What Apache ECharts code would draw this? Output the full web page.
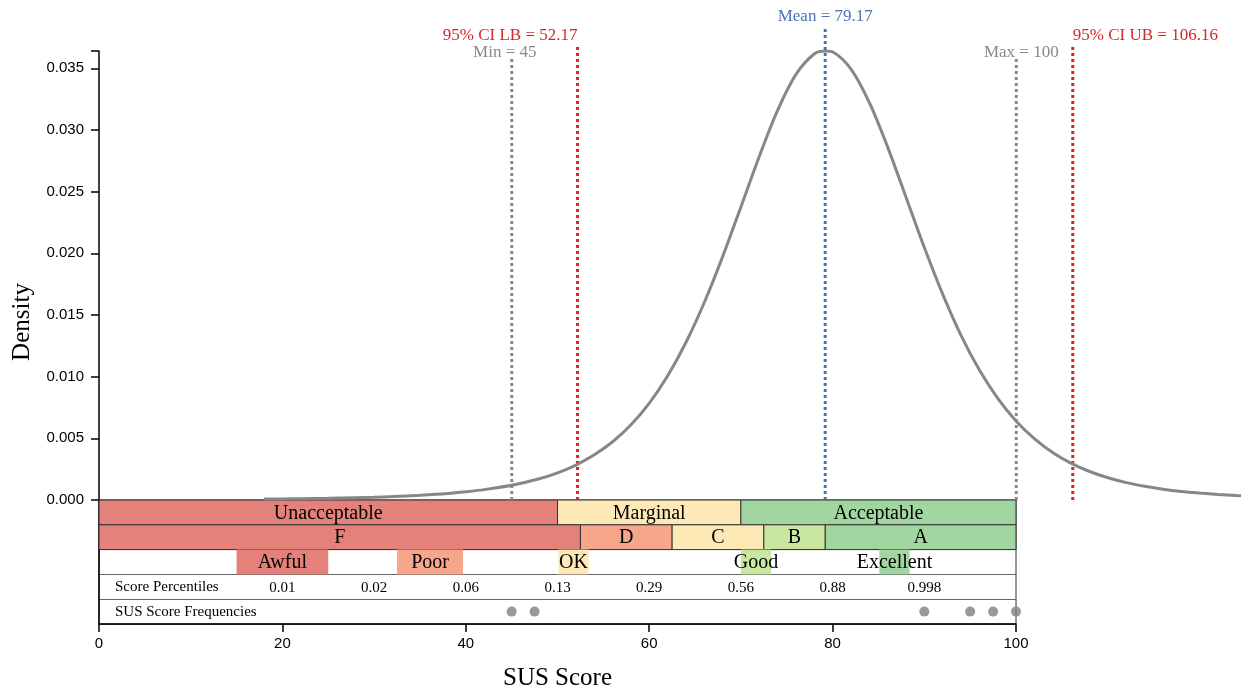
<!DOCTYPE html>
<html><head><meta charset="utf-8">
<script src="https://cdn.jsdelivr.net/npm/echarts@6/dist/echarts.min.js"></script>
<style>html,body{margin:0;padding:0;background:#fff}#c{width:1241px;height:689px}</style>
</head><body><div id="c"></div>
<script>
// ---- data ----
const densityX = [18,20,22,25,28,30,32,35,38,40,42,45,48,50,52,54,56,58,60,62,64,66,68,70,72,74,76,78,79.17,80,82,84,86,88,90,92,94,96,98,100,102,104,106,108,110,112,114,116,118,120,122,124,126];
const densityY = [0.00008,0.00009,0.00011,0.00014,0.00019,0.00023,0.00028,0.00039,0.00053,0.00067,0.00084,0.00119,0.00172,0.00220,0.00283,0.00366,0.00472,0.00610,0.00786,0.01007,0.01279,0.01603,0.01975,0.02380,0.02789,0.03163,0.03453,0.03618,0.03640,0.03632,0.03491,0.03219,0.02857,0.02451,0.02043,0.01665,0.01331,0.01051,0.00822,0.00639,0.00495,0.00383,0.00297,0.00231,0.00180,0.00141,0.00111,0.00087,0.00069,0.00056,0.00045,0.00036,0.00029];
const refValues = [45, 52.17, 79.17, 100, 106.16];
const refLabels = ['Min = 45','95% CI LB = 52.17','Mean = 79.17','Max = 100','95% CI UB = 106.16'];
const acceptLabels = ['Unacceptable','Marginal','Acceptable'];
const acceptFrom = [0,50,70];
const acceptTo = [50,70,100];
const gradeLabels = ['F','D','C','B','A'];
const gradeFrom = [0,52.5,62.5,72.5,79.2];
const gradeTo = [52.5,62.5,72.5,79.2,100];
const adjLabels = ['Awful','Poor','OK','Good','Excellent'];
const adjFrom = [15,32.5,50.1,70,85.1];
const adjTo = [25,39.7,53.4,73.3,88.4];
const pctX = [20,30,40,50,60,70,80,90];
const pctLabels = ['0.01','0.02','0.06','0.13','0.29','0.56','0.88','0.998'];
const scores = [45,47.5,90,95,97.5,100];
const rowTitles = ['Score Percentiles','SUS Score Frequencies'];

// ---- styles ----
const RED='#e5817b', SALMON='#f5a68b', YEL='#fde9b5', LGREEN='#c9e7a1', GREEN='#a2d6a0';
const acceptColors=[RED,YEL,GREEN];
const gradeColors=[RED,SALMON,YEL,LGREEN,GREEN];
const adjColors=[RED,SALMON,YEL,LGREEN,GREEN];
const refColors=['#888888','#d62728','#4a72b0','#888888','#d62728'];
const refHeights=[441,456,472,441,456];
const refAlign=['center','right','center','center','left'];
const refDx=[-7,0,0,5,0];
const refDy=[-2,0,3,-2,0];
const SERIF='"Liberation Serif", "Times New Roman", serif';
const SANS='"Liberation Sans", Arial, sans-serif';

const rows=[
  {labels:acceptLabels, from:acceptFrom, to:acceptTo, colors:acceptColors, stroke:'#333'},
  {labels:gradeLabels, from:gradeFrom, to:gradeTo, colors:gradeColors, stroke:'#333'},
  {labels:adjLabels, from:adjFrom, to:adjTo, colors:adjColors, stroke:null}
];
const bandData=[];
rows.forEach((r,ri)=>r.labels.forEach((l,k)=>bandData.push([r.from[k],r.to[k],ri,k])));

const chart=echarts.init(document.getElementById('c'),null,{renderer:'canvas'});
chart.setOption({
  animation:false,
  backgroundColor:'#fff',
  grid:[
    {left:99,top:51,width:1142,height:449,outerBoundsMode:'none'},
    {left:99,top:500,width:917,height:124,show:true,borderColor:'#333',borderWidth:1,backgroundColor:'transparent',outerBoundsMode:'none'}
  ],
  xAxis:[
    {gridIndex:0,type:'value',min:0,max:124.5,show:false},
    {gridIndex:1,type:'value',min:0,max:100,interval:20,
     axisLine:{show:true,onZero:false,lineStyle:{color:'#000',width:1.5}},
     axisTick:{show:true,length:8,lineStyle:{color:'#000',width:1.5}},
     axisLabel:{margin:12,color:'#000',fontSize:15,fontFamily:SANS},
     splitLine:{show:false},
     name:'SUS Score',nameLocation:'middle',nameGap:42,
     nameTextStyle:{fontFamily:SERIF,fontSize:25,color:'#000'}}
  ],
  yAxis:[
    {gridIndex:0,type:'value',min:0,max:0.0364,interval:0.005,
     axisLine:{show:true,lineStyle:{color:'#000',width:1.5}},
     axisTick:{show:true,length:8,lineStyle:{color:'#000',width:1.5}},
     axisLabel:{margin:15,color:'#000',fontSize:15,fontFamily:SANS,
       formatter:v=>Math.abs(v/0.005-Math.round(v/0.005))<1e-6?v.toFixed(3):''},
     splitLine:{show:false}},
    {gridIndex:1,type:'value',min:0,max:5,interval:1,inverse:true,
     axisLine:{show:true,onZero:false,lineStyle:{color:'#000',width:1.5}},
     axisTick:{show:false},axisLabel:{show:false},
     splitLine:{show:true,lineStyle:{color:'#666',width:1}}}
  ],
  graphic:[
    {type:'text',x:22,y:322,rotation:Math.PI/2,
     style:{text:'Density',font:'25px '+SERIF,fill:'#000',align:'center',verticalAlign:'middle'}}
  ],
  series:[
    {type:'custom',xAxisIndex:1,yAxisIndex:1,z:2,data:bandData,
     renderItem:(params,api)=>{
       const from=api.value(0),to=api.value(1),ri=api.value(2),k=api.value(3);
       const r=rows[ri];
       const p0=api.coord([from,ri]),p1=api.coord([to,ri+1]);
       const x=p0[0],y=Math.min(p0[1],p1[1]),w=p1[0]-p0[0],h=Math.abs(p1[1]-p0[1]);
       return {type:'group',children:[
         {type:'rect',shape:{x:x,y:y,width:w,height:h},style:{fill:r.colors[k],stroke:r.stroke,lineWidth:1}},
         {type:'text',x:x+w/2,y:y+h/2+1,style:{text:r.labels[k],fill:'#000',font:'20px '+SERIF,align:'center',verticalAlign:'middle'}}
       ]};
     }},
    {type:'custom',xAxisIndex:1,yAxisIndex:1,z:3,data:pctX.map((x,i)=>[x,i]),
     renderItem:(params,api)=>{
       const p=api.coord([api.value(0),3.5]);
       return {type:'text',x:p[0],y:p[1]+1,style:{text:pctLabels[api.value(1)],fill:'#000',font:'15px '+SERIF,align:'center',verticalAlign:'middle'}};
     }},
    {type:'custom',xAxisIndex:1,yAxisIndex:1,z:3,data:rowTitles.map((t,i)=>[0,3+i]),
     renderItem:(params,api)=>{
       const p=api.coord([api.value(0),api.value(1)+0.5]);
       return {type:'text',x:p[0]+16,y:p[1],style:{text:rowTitles[params.dataIndex],fill:'#000',font:'15px '+SERIF,align:'left',verticalAlign:'middle'}};
     }},
    {type:'scatter',xAxisIndex:1,yAxisIndex:1,z:4,symbolSize:10,
     itemStyle:{color:'#808080'},data:scores.map(s=>[s,4.5])},
    {type:'custom',xAxisIndex:0,yAxisIndex:0,z:4,clip:false,data:refValues.map((v,i)=>[v,i]),
     renderItem:(params,api)=>{
       const i=api.value(1);
       const p=api.coord([api.value(0),0]);
       const top=p[1]-refHeights[i];
       return {type:'group',children:[
         {type:'line',shape:{x1:p[0],y1:p[1],x2:p[0],y2:top},style:{stroke:refColors[i],lineWidth:3,lineDash:[3,3]}},
         {type:'text',x:p[0]+refDx[i],y:top-refDy[i],style:{text:refLabels[i],fill:refColors[i],font:'17px '+SERIF,align:refAlign[i],verticalAlign:'bottom'}}
       ]};
     }},
    {type:'line',xAxisIndex:0,yAxisIndex:0,z:6,showSymbol:false,smooth:0.3,clip:true,
     lineStyle:{color:'#878787',width:3},
     data:densityX.map((x,i)=>[x,densityY[i]])}
  ]
});
</script></body></html>
